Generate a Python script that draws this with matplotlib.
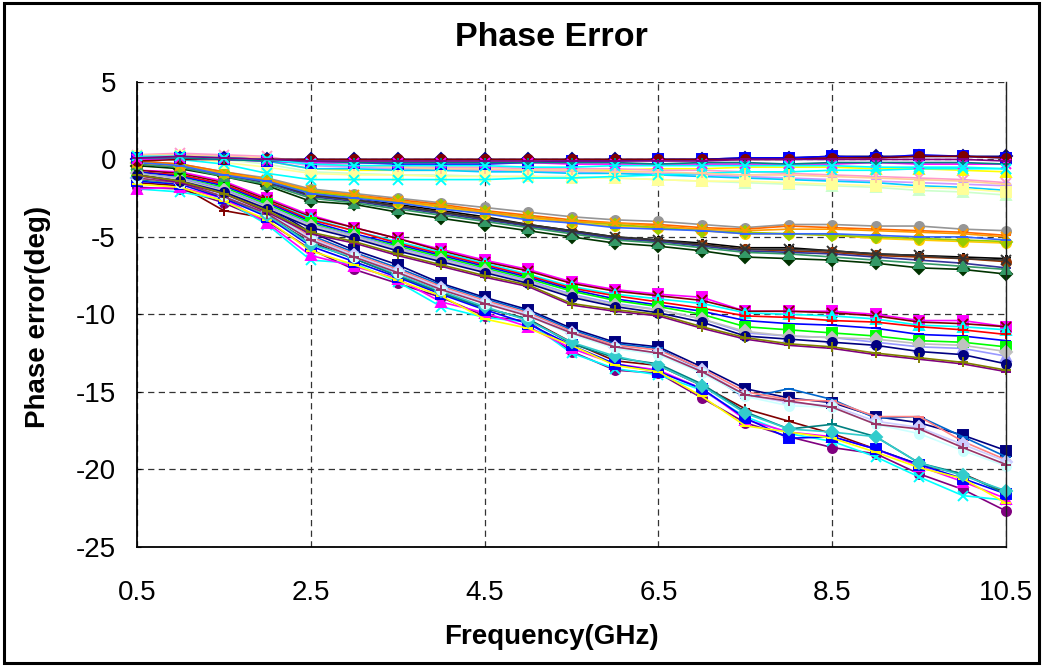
import matplotlib
matplotlib.use('Agg')
import matplotlib.pyplot as plt
from matplotlib.patches import Rectangle

plt.rcParams['font.family'] = ['Liberation Sans', 'DejaVu Sans']
plt.rcParams['axes.unicode_minus'] = False

# 频率点 (GHz)
freq = [0.5, 1.0, 1.5, 2.0, 2.5, 3.0, 3.5, 4.0, 4.5, 5.0, 5.5,
        6.0, 6.5, 7.0, 7.5, 8.0, 8.5, 9.0, 9.5, 10.0, 10.5]

# ---------- 0度附近的一组 ----------
zero_top = [
    [0.0, 0.1, 0.1, 0.0, 0.0, 0.0, 0.0, 0.0, 0.0, 0.0, 0.0, 0.0, 0.0, 0.0, 0.1, 0.1, 0.2, 0.2, 0.2, 0.2, 0.2],
    [0.1, 0.1, 0.0, -0.1, -0.2, -0.2, -0.3, -0.3, -0.3, -0.2, -0.1, -0.1, 0.0, 0.0, 0.1, 0.1, 0.2, 0.1, 0.3, 0.2, 0.1],
    [-0.1, 0.0, 0.0, 0.0, 0.0, 0.0, 0.0, 0.0, 0.0, 0.0, 0.0, 0.0, 0.0, 0.0, 0.0, 0.0, 0.1, 0.1, 0.2, 0.2, 0.1],
    [0.0, 0.1, 0.0, -0.1, -0.2, -0.2, -0.2, -0.2, -0.2, -0.2, -0.3, -0.3, -0.3, -0.3, -0.3, -0.3, -0.3, -0.2, -0.3, -0.3, -0.3],
    [0.1, 0.1, 0.0, -0.1, -0.1, -0.2, -0.2, -0.2, -0.2, -0.2, -0.2, -0.2, -0.3, -0.2, -0.2, -0.3, -0.2, -0.2, -0.2, -0.2, -0.3],
    [0.2, 0.2, 0.1, 0.0, -0.3, -0.4, -0.4, -0.4, -0.4, -0.5, -0.5, -0.4, -0.4, -0.4, -0.4, -0.4, -0.4, -0.5, -0.5, -0.5, -0.6],
    [0.1, 0.2, 0.1, 0.0, -0.1, -0.1, -0.1, -0.1, -0.1, -0.1, -0.1, -0.1, -0.1, -0.1, 0.0, 0.0, 0.0, 0.0, 0.0, 0.0, -0.1],
]
zero_top_style = [('#000080', 'D'), ('#0000FF', 's'), ('#800000', 'o'), ('#FF00FF', 'x'),
                  ('#008080', '+'), ('#00FFFF', 'x'), ('#800080', '_')]

zero_low = [
    [0.2, 0.3, 0.2, -0.1, -0.6, -0.7, -0.7, -0.7, -0.7, -0.7, -0.7, -0.7, -0.6, -0.6, -0.5, -0.5, -0.5, -0.6, -0.6, -0.7, -0.8],
    [0.3, 0.4, 0.3, 0.2, -0.3, -0.4, -0.5, -0.5, -0.5, -0.6, -0.6, -0.6, -0.7, -0.7, -0.8, -0.9, -1.0, -1.1, -1.2, -1.3, -1.5],
    [0.2, 0.3, 0.2, 0.0, -0.4, -0.5, -0.6, -0.6, -0.7, -0.8, -0.8, -0.9, -0.9, -1.0, -1.1, -1.2, -1.3, -1.4, -1.5, -1.6, -1.7],
    [0.1, 0.2, 0.1, -0.1, -0.6, -0.6, -0.7, -0.7, -0.8, -0.8, -0.9, -0.9, -1.0, -1.1, -1.2, -1.3, -1.4, -1.5, -1.7, -1.8, -2.0],
    [0.1, 0.2, 0.0, -0.3, -0.8, -0.9, -1.0, -1.0, -1.1, -1.1, -1.1, -1.2, -1.3, -1.4, -1.5, -1.6, -1.7, -1.8, -2.0, -2.1, -2.3],
    [0.2, 0.2, -0.2, -0.5, -0.9, -1.0, -1.0, -1.1, -1.1, -1.1, -1.2, -1.2, -1.3, -1.4, -1.4, -1.5, -1.6, -1.7, -1.8, -1.9, -2.1],
    [0.0, 0.0, -0.3, -0.9, -1.3, -1.3, -1.3, -1.3, -1.3, -1.2, -1.2, -1.1, -1.0, -0.9, -0.8, -0.8, -0.7, -0.7, -0.6, -0.6, -0.6],
    [0.3, 0.3, 0.2, 0.1, -0.2, -0.4, -0.5, -0.6, -0.6, -0.7, -0.7, -0.8, -0.8, -0.9, -1.0, -1.0, -1.1, -1.2, -1.3, -1.4, -1.6],
]
zero_low_style = [('#FFFF00', '^'), ('#FF99CC', 'x'), ('#CC99FF', 'o'), ('#00CCFF', '_'),
                  ('#CCFFCC', '^'), ('#FFFF99', 's'), ('#00FFFF', 'x'), ('#FFCC99', '+')]

# ---------- -5度附近的一组 ----------
five_top = [
    [-0.1, -0.3, -0.8, -1.2, -1.9, -2.2, -2.5, -2.8, -3.1, -3.4, -3.7, -3.9, -4.0, -4.2, -4.4, -4.2, -4.2, -4.3, -4.3, -4.5, -4.6],
    [-0.1, -0.3, -0.8, -1.3, -2.0, -2.3, -2.6, -2.9, -3.3, -3.6, -3.9, -4.1, -4.2, -4.4, -4.5, -4.3, -4.4, -4.5, -4.6, -4.7, -4.9],
    [-0.2, -0.4, -0.9, -1.3, -2.1, -2.4, -2.8, -3.1, -3.5, -3.8, -4.1, -4.3, -4.4, -4.6, -4.8, -4.8, -4.9, -5.1, -5.2, -5.3, -5.4],
    [-0.2, -0.4, -0.9, -1.4, -2.1, -2.4, -2.7, -3.0, -3.4, -3.7, -4.0, -4.2, -4.4, -4.6, -4.7, -4.8, -4.9, -5.0, -5.1, -5.2, -5.3],
    [-0.2, -0.4, -0.9, -1.3, -2.0, -2.3, -2.7, -3.0, -3.4, -3.7, -4.0, -4.1, -4.3, -4.5, -4.6, -4.5, -4.5, -4.6, -4.7, -4.8, -5.0],
    [-0.2, -0.4, -1.0, -1.4, -2.2, -2.5, -2.8, -3.2, -3.5, -3.9, -4.1, -4.4, -4.5, -4.6, -4.8, -4.8, -4.8, -4.9, -5.0, -5.0, -5.2],
]
five_top_style = [('#969696', 'o'), ('#FF6600', '_'), ('#FFCC00', 'o'), ('#99CC00', 'D'),
                  ('#FF9900', 'x'), ('#3366FF', '_')]

five_low = [
    [-0.2, -0.4, -0.9, -1.4, -2.2, -2.5, -2.9, -3.3, -3.7, -4.2, -4.6, -5.0, -5.2, -5.4, -5.7, -5.7, -5.9, -6.1, -6.2, -6.3, -6.4],
    [-0.2, -0.4, -1.0, -1.5, -2.3, -2.6, -3.0, -3.4, -3.8, -4.3, -4.7, -5.1, -5.3, -5.5, -5.8, -5.9, -6.0, -6.2, -6.3, -6.4, -6.6],
    [-0.3, -0.5, -1.0, -1.5, -2.4, -2.7, -3.1, -3.5, -3.9, -4.3, -4.7, -5.1, -5.3, -5.6, -5.9, -6.0, -6.1, -6.3, -6.5, -6.7, -7.0],
    [-0.4, -0.6, -1.1, -1.7, -2.7, -2.9, -3.4, -3.8, -4.2, -4.6, -5.0, -5.4, -5.6, -5.9, -6.3, -6.4, -6.5, -6.7, -7.0, -7.1, -7.4],
    [-0.3, -0.5, -1.1, -1.6, -2.5, -2.8, -3.2, -3.6, -4.0, -4.4, -4.8, -5.2, -5.4, -5.7, -6.0, -6.1, -6.3, -6.5, -6.7, -6.9, -7.1],
    [-0.2, -0.4, -0.9, -1.4, -2.3, -2.6, -3.0, -3.4, -3.8, -4.2, -4.6, -5.0, -5.2, -5.5, -5.8, -5.8, -5.9, -6.1, -6.2, -6.4, -6.5],
]
five_low_style = [('#000000', (6, 2, 0)), ('#993300', 'o'), ('#333399', '_'), ('#003300', 'D'),
                  ('#339966', '^'), ('#333333', 'x')]

# ---------- -11度附近的一组 ----------
eleven = [
    [-0.7, -0.8, -1.4, -2.5, -3.6, -4.4, -5.1, -5.8, -6.5, -7.1, -7.9, -8.4, -8.7, -8.9, -9.8, -9.8, -9.8, -10.0, -10.4, -10.4, -10.8],
    [-0.7, -0.9, -1.5, -2.6, -3.7, -4.4, -5.1, -5.9, -6.6, -7.2, -8.0, -8.5, -8.8, -9.1, -9.8, -9.8, -9.9, -10.1, -10.5, -10.6, -10.8],
    [-0.8, -1.0, -1.6, -2.7, -3.8, -4.6, -5.3, -6.0, -6.7, -7.4, -8.2, -8.7, -9.0, -9.3, -9.9, -10.0, -10.1, -10.3, -10.7, -10.8, -11.0],
    [-0.8, -1.0, -1.6, -2.7, -3.9, -4.6, -5.4, -6.1, -6.8, -7.5, -8.3, -8.8, -9.2, -9.6, -10.1, -10.2, -10.4, -10.5, -10.8, -11.0, -11.3],
    [-0.8, -1.1, -1.7, -2.8, -4.0, -4.8, -5.5, -6.2, -6.9, -7.6, -8.4, -9.0, -9.4, -9.8, -10.4, -10.6, -10.7, -10.9, -11.3, -11.4, -11.7],
    [-0.9, -1.2, -1.8, -2.9, -4.1, -4.9, -5.6, -6.3, -7.0, -7.7, -8.5, -9.1, -9.5, -10.0, -10.8, -11.0, -11.2, -11.4, -11.7, -11.8, -12.1],
    [-0.9, -1.2, -1.9, -3.0, -4.2, -4.9, -5.7, -6.4, -7.1, -7.8, -8.7, -9.3, -9.7, -10.3, -11.2, -11.4, -11.5, -11.8, -12.1, -12.2, -12.7],
    [-0.9, -1.3, -2.0, -3.1, -4.3, -5.0, -5.8, -6.5, -7.2, -7.9, -8.8, -9.4, -9.7, -10.3, -11.1, -11.4, -11.5, -11.6, -11.9, -12.0, -12.4],
    [-1.0, -1.4, -2.1, -3.2, -4.4, -5.1, -5.9, -6.6, -7.3, -8.0, -8.9, -9.5, -9.9, -10.5, -11.4, -11.6, -11.8, -12.0, -12.4, -12.6, -13.2],
    [-1.0, -1.5, -2.2, -3.4, -4.8, -5.4, -6.2, -6.9, -7.6, -8.2, -9.4, -9.8, -10.1, -10.9, -11.6, -12.0, -12.2, -12.6, -12.9, -13.2, -13.7],
    [-1.0, -1.4, -2.2, -3.3, -4.7, -5.3, -6.1, -6.8, -7.5, -8.1, -9.3, -9.7, -10.0, -10.8, -11.5, -11.9, -12.1, -12.5, -12.8, -13.1, -13.6],
]
eleven_style = [('#FF00FF', 's'), ('#800000', 'x'), ('#00FFFF', '^'), ('#FF0000', '+'),
                ('#0000FF', '_'), ('#00FF00', 's'), ('#9999FF', '^'), ('#C0C0C0', 'D'),
                ('#000080', 'o'), ('#800080', '_'), ('#808000', '+')]

# ---------- -20度附近的一组 ----------
twenty_top = [
    [-1.0, -1.2, -2.0, -3.0, -4.7, -5.85, -6.8, -8.0, -8.9, -9.7, -10.9, -11.8, -12.1, -13.4, -14.8, -15.4, -15.7, -16.6, -17.0, -17.8, -18.8],
    [-1.1, -1.3, -2.1, -3.1, -4.9, -6.0, -7.0, -8.1, -9.0, -9.8, -11.0, -11.9, -12.2, -13.6, -15.4, -14.8, -15.5, -16.7, -16.6, -17.9, -19.2],
    [-1.1, -1.4, -2.2, -3.2, -5.0, -6.1, -7.1, -8.2, -9.1, -9.9, -11.1, -12.0, -12.3, -13.5, -15.0, -15.5, -15.6, -16.6, -16.6, -18.2, -19.4],
    [-1.2, -1.4, -2.3, -3.3, -5.1, -6.2, -7.2, -8.3, -9.2, -10.0, -11.2, -12.1, -12.5, -13.6, -15.2, -15.7, -15.9, -16.9, -17.3, -18.4, -19.5],
    [-1.2, -1.5, -2.3, -3.4, -5.2, -6.3, -7.3, -8.4, -9.3, -10.1, -11.3, -12.2, -12.6, -13.8, -15.3, -15.9, -16.0, -17.1, -17.7, -18.8, -19.8],
    [-1.2, -1.5, -2.4, -3.5, -5.2, -6.3, -7.3, -8.4, -9.3, -10.1, -11.2, -12.1, -12.5, -13.7, -15.2, -15.6, -16.0, -17.1, -17.4, -18.6, -19.7],
]
twenty_top_style = [('#000080', 's'), ('#0066CC', '_'), ('#FF8080', '_'), ('#CCCCFF', 'D'),
                    ('#CCFFFF', 'o'), ('#993366', '+')]

twenty_low = [
    [-1.8, -1.9, -2.8, -4.0, -5.8, -7.1, -8.0, -8.9, -10.1, -10.45, -12.4, -13.6, -13.8, -15.4, -17.0, -17.9, -18.6, -19.0, -20.3, -21.3, -22.7],
    [-1.5, -1.7, -3.3, -3.8, -5.3, -6.4, -7.5, -8.6, -9.6, -10.3, -11.8, -13.0, -13.3, -14.6, -16.1, -16.9, -17.7, -18.7, -19.7, -20.3, -21.5],
    [-1.9, -2.1, -2.6, -4.2, -6.5, -6.7, -7.9, -9.5, -10.2, -10.5, -12.5, -13.5, -13.9, -14.9, -16.6, -17.7, -18.2, -19.2, -20.5, -21.7, -22.0],
    [-1.9, -1.8, -2.5, -4.1, -6.2, -6.9, -7.7, -9.2, -9.9, -10.8, -12.2, -13.2, -13.6, -14.8, -16.8, -17.6, -17.9, -18.7, -19.8, -20.8, -21.9],
    [-1.4, -1.6, -2.5, -3.7, -5.6, -6.6, -7.6, -8.7, -9.7, -10.6, -12.0, -13.2, -13.7, -14.8, -16.7, -18.0, -17.9, -18.7, -19.7, -20.6, -21.6],
    [-1.6, -1.8, -2.7, -3.9, -5.9, -6.8, -7.8, -8.8, -10.3, -10.9, -12.0, -13.3, -13.7, -15.3, -17.2, -17.6, -18.0, -18.9, -19.9, -20.6, -22.2],
    [-1.3, -1.5, -2.4, -3.6, -5.4, -6.4, -7.5, -8.6, -9.6, -10.3, -11.9, -12.8, -13.2, -14.5, -16.3, -17.4, -17.1, -17.9, -19.6, -20.3, -21.6],
    [-1.2, -1.4, -2.3, -3.6, -5.5, -6.3, -7.4, -8.5, -9.5, -10.4, -11.8, -12.7, -13.3, -14.6, -16.4, -17.4, -17.6, -17.9, -19.6, -20.4, -21.4],
]
twenty_low_style = [('#800080', 'o'), ('#800000', '+'), ('#00FFFF', 'x'), ('#FF00FF', '^'),
                    ('#0000FF', 's'), ('#FFFF00', '_'), ('#008080', '+'), ('#33CCCC', 'D')]

groups = [
    (twenty_low, twenty_low_style),
    (twenty_top, twenty_top_style),
    (eleven, eleven_style),
    (five_low, five_low_style),
    (five_top, five_top_style),
    (zero_low, zero_low_style),
    (zero_top, zero_top_style),
]

fig = plt.figure(figsize=(10.43, 6.66), dpi=100)
ax = fig.add_axes([0.1311, 0.1791, 0.8337, 0.6978])

for data, style in groups:
    for vals, (c, m) in zip(data, style):
        ax.plot(freq, vals, color=c, lw=1.2, marker=m, ms=6.5,
                mfc=c, mec=c, mew=1.4, clip_on=False)

ax.set_xlim(0.5, 10.5)
ax.set_ylim(-25, 5)
ax.set_xticks([0.5, 2.5, 4.5, 6.5, 8.5, 10.5])
ax.set_xticklabels(['0.5', '2.5', '4.5', '6.5', '8.5', '10.5'])
ax.set_yticks([-25, -20, -15, -10, -5, 0, 5])
ax.tick_params(axis='x', length=0, pad=24, labelsize=20)
ax.tick_params(axis='y', length=3, direction='in', pad=15, labelsize=20)

ax.grid(True, linestyle=(0, (5, 3.5)), color='#333333', lw=0.9)
ax.set_axisbelow(True)
ax.spines['top'].set_visible(False)
for s in ['left', 'bottom']:
    ax.spines[s].set_linewidth(1.3)
    ax.spines[s].set_color('black')
ax.spines['right'].set_linewidth(1.0)
ax.spines['right'].set_color('#222222')

fig.text(0.529, 1 - 38 / 666, 'Phase Error', ha='center', va='center',
         fontsize=24.5, fontweight='bold')
fig.text(0.529, 1 - 637 / 666, 'Frequency(GHz)', ha='center', va='center',
         fontsize=20, fontweight='bold')
fig.text(0.0364, 1 - 317 / 666, 'Phase error(deg)', ha='center', va='center',
         rotation=90, fontsize=20, fontweight='bold')

# 外框
fig.patches.append(Rectangle((0.004, 0.005), 0.992, 0.99, transform=fig.transFigure,
                             fill=False, ec='black', lw=2.2))

fig.savefig('out.png', dpi=100)
